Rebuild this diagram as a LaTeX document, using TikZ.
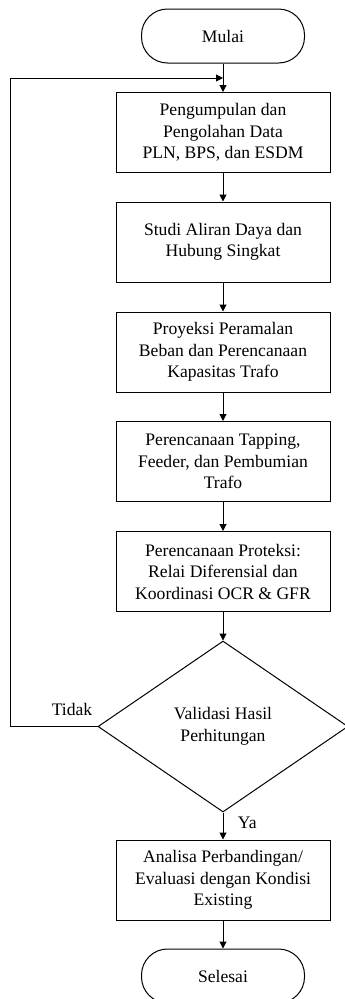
\documentclass[tikz,border=0pt]{standalone}
\usepackage{fontspec}
\setmainfont{Liberation Serif}
\usetikzlibrary{shapes.geometric,arrows.meta}

\begin{document}
\begin{tikzpicture}[x=1pt,y=-1pt,
	font=\fontsize{17.6}{21.5}\selectfont,
	line width=1pt,
	terminal/.style={draw,rectangle,rounded corners=26pt,minimum width=163pt,minimum height=54pt},
	process/.style={draw,rectangle,align=center,minimum width=214pt,minimum height=80pt,inner sep=2pt},
	decision/.style={draw,diamond,align=center,minimum width=250pt,minimum height=171pt,inner sep=0pt},
	flow/.style={-{Triangle[length=7pt,width=7pt]}}]
	\useasboundingbox (0,0) rectangle (345,999);
	
	%Start
	\node[terminal] at (223,36) (mulai) {Mulai};
	\coordinate (loopin) at (223,78);
	
	%Process boxes
	\node[process] at (223,132.5) (data) {Pengumpulan dan\\Pengolahan Data\\PLN, BPS, dan ESDM};
	\node[process] at (223,242) (studi) {Studi Aliran Daya dan\\Hubung Singkat};
	\node[process] at (223,352) (proyeksi) {Proyeksi Peramalan\\Beban dan Perencanaan\\Kapasitas Trafo};
	\node[process] at (223,461.5) (tapping) {Perencanaan Tapping,\\Feeder, dan Pembumian\\Trafo};
	\node[process] at (223,571.5) (proteksi) {Perencanaan Proteksi:\\Relai Diferensial dan\\Koordinasi OCR \& GFR};
	
	%Decision
	\node[decision] at (223,726.5) (validasi) {Validasi Hasil\\Perhitungan};
	\node[] at (72,709) (tidak) {Tidak};
	\node[anchor=west] at (234,823) (ya) {Ya};
	
	%End
	\node[process] at (223,880) (analisa) {Analisa Perbandingan/\\Evaluasi dengan Kondisi\\Existing};
	\node[terminal] at (223,976) (selesai) {Selesai};
	
	%Arrows
	\draw[flow] (mulai) -- (data);
	\draw[flow] (data) -- (studi);
	\draw[flow] (studi) -- (proyeksi);
	\draw[flow] (proyeksi) -- (tapping);
	\draw[flow] (tapping) -- (proteksi);
	\draw[flow] (proteksi) -- (validasi);
	\draw[flow] (validasi) -- (analisa);
	\draw[flow] (analisa) -- (selesai);
	\draw[flow] (validasi.west) -- ++(-87,0) |- (loopin);
	
\end{tikzpicture}
\end{document}
